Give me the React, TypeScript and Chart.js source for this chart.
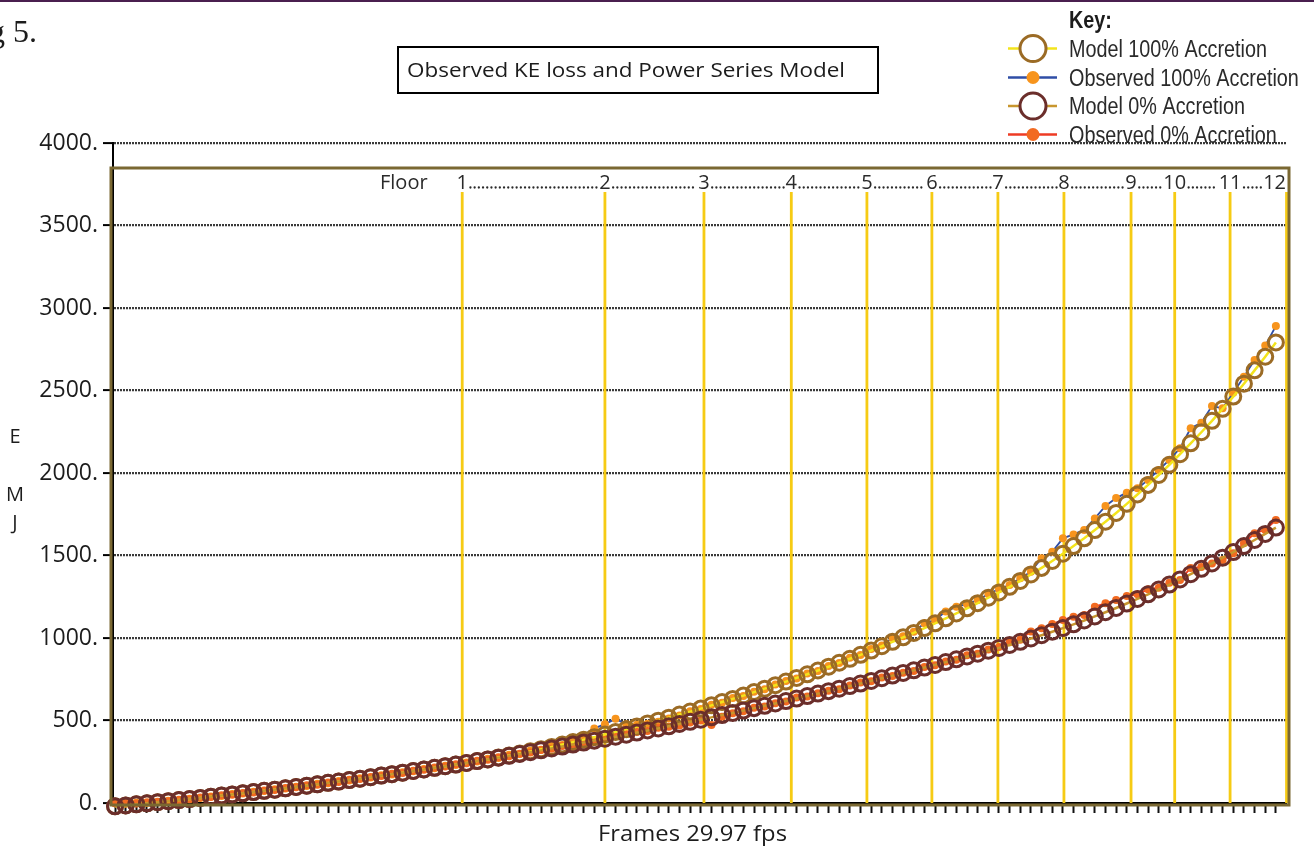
import React, { useEffect, useRef } from "react";
import { Chart, registerables } from "chart.js";

Chart.register(...registerables);

// Energy axis (MJ)
const Y_MIN = 0;
const Y_MAX = 4000;
const Y_STEP = 500;

// Floor crossings, in video frames
const FLOOR_LABELS = ["1", "2", "3", "4", "5", "6", "7", "8", "9", "10", "11", "12"];
const FLOOR_FRAMES = [32.6, 46.0, 55.3, 63.5, 70.6, 76.7, 82.9, 89.1, 95.4, 99.5, 104.7, 110.0];

// Kinetic energy per frame (MJ)
const MODEL_100 = [
  -20, -15, -8, -2, 5, 11, 18, 24, 31, 38,
  45, 52, 59, 66, 74, 81, 89, 97, 105, 113,
  122, 130, 139, 147, 156, 166, 175, 184, 194, 203,
  213, 223, 233, 243, 254, 264, 276, 288, 300, 313,
  326, 340, 354, 369, 384, 399, 415, 431, 447, 464,
  482, 499, 517, 536, 554, 572, 592, 612, 631, 651,
  672, 693, 714, 736, 758, 780, 803, 826, 850, 874,
  898, 924, 950, 977, 1004, 1031, 1060, 1089, 1119, 1149,
  1180, 1211, 1244, 1276, 1310, 1346, 1385, 1425, 1467, 1511,
  1557, 1604, 1654, 1705, 1758, 1813, 1870, 1928, 1988, 2050,
  2114, 2180, 2247, 2316, 2389, 2463, 2541, 2622, 2705, 2791,
];

const OBSERVED_100 = [
  0, -5, 2, 0, 6, 14, 15, 26, 30, 40,
  43, 55, 57, 68, 72, 84, 88, 99, 103, 116,
  120, 133, 137, 150, 154, 168, 173, 187, 192, 206,
  211, 226, 231, 246, 251, 268, 272, 292, 297, 318,
  322, 345, 352, 380, 410, 452, 478, 510, 478, 475,
  480, 492, 512, 530, 556, 570, 596, 608, 636, 648,
  675, 690, 718, 740, 755, 785, 800, 830, 848, 880,
  897, 933, 955, 1000, 1010, 1038, 1089, 1109, 1160, 1190,
  1205, 1230, 1267, 1297, 1321, 1362, 1402, 1483, 1523, 1604,
  1628, 1655, 1725, 1800, 1848, 1881, 1907, 1958, 2018, 2079,
  2150, 2271, 2305, 2406, 2392, 2487, 2584, 2685, 2772, 2891,
];

const MODEL_0 = [
  -20, -15, -8, -2, 5, 11, 18, 24, 31, 38,
  45, 52, 59, 66, 74, 81, 89, 97, 105, 113,
  122, 130, 139, 147, 156, 166, 175, 184, 194, 203,
  213, 223, 233, 243, 254, 264, 275, 286, 297, 308,
  319, 331, 342, 354, 366, 378, 390, 402, 414, 427,
  440, 452, 465, 479, 492, 505, 519, 533, 546, 560,
  575, 589, 603, 618, 633, 648, 663, 678, 693, 709,
  724, 740, 756, 772, 788, 804, 821, 837, 854, 871,
  888, 905, 923, 940, 958, 977, 997, 1017, 1038, 1060,
  1083, 1106, 1131, 1156, 1182, 1209, 1237, 1265, 1294, 1324,
  1355, 1387, 1419, 1452, 1487, 1521, 1557, 1594, 1631, 1669,
];

const OBSERVED_0 = [
  -2, 2, -3, 4, 8, 10, 20, 22, 33, 36,
  47, 50, 61, 64, 76, 79, 91, 95, 107, 111,
  124, 128, 141, 145, 158, 164, 177, 182, 196, 201,
  215, 221, 235, 241, 256, 262, 277, 284, 299, 306,
  321, 329, 345, 352, 368, 380, 392, 404, 418, 430,
  436, 456, 462, 470, 488, 500, 473, 522, 544, 556,
  578, 585, 605, 615, 640, 645, 665, 680, 690, 712,
  730, 738, 760, 770, 790, 800, 825, 835, 858, 868,
  895, 905, 930, 945, 975, 990, 1040, 1059, 1085, 1109,
  1129, 1140, 1190, 1210, 1230, 1254, 1265, 1295, 1305, 1335,
  1351, 1425, 1430, 1452, 1473, 1513, 1574, 1635, 1655, 1715,
];

const SERIES_NAMES = [
  "Model 100% Accretion",
  "Observed 100% Accretion",
  "Model 0% Accretion",
  "Observed 0% Accretion",
];

const TITLE = "Observed KE loss and Power Series Model";
const X_TITLE = "Frames 29.97 fps";
const Y_TITLE = ["E", "M", "J"];
const FLOOR_TITLE = "Floor";
const KEY_TITLE = "Key:";
const FIGURE_TAG = "g 5.";

const COLORS = {
  model100Line: "#f3e41c",
  model100Ring: "#9b6b25",
  obs100Line: "#2f4ea6",
  obs100Dot: "#f7941d",
  model0Line: "#c8962e",
  model0Ring: "#6b2e2b",
  obs0Line: "#ee3b24",
  obs0Dot: "#f26a21",
  floor: "#f6cb14",
  frame: "#7a6832",
  text: "#1c1c1c",
};

const SANS = '"Open Sans", "DejaVu Sans", sans-serif';
const NARROW = '"Liberation Sans", Arial, sans-serif';

const toPoints = (values: number[]) => values.map((y, i) => ({ x: i, y }));

const squeezed = (
  ctx: CanvasRenderingContext2D,
  text: string,
  x: number,
  y: number,
  font: string,
  sx: number
) => {
  ctx.save();
  ctx.font = font;
  ctx.textAlign = "left";
  ctx.textBaseline = "alphabetic";
  ctx.translate(x, y);
  ctx.scale(sx, 1);
  ctx.fillText(text, 0, 0);
  ctx.restore();
};

const decorations = {
  id: "decorations",
  beforeDraw(chart: any) {
    const { ctx, chartArea } = chart;
    ctx.save();
    // thin rule across the top of the page
    ctx.fillStyle = "#4a1f4f";
    ctx.fillRect(0, 0, chart.width, 2);

    ctx.fillStyle = COLORS.text;
    ctx.font = '32px "Liberation Serif", "DejaVu Serif", serif';
    ctx.textAlign = "left";
    ctx.textBaseline = "alphabetic";
    ctx.fillText(FIGURE_TAG, -11, 42);

    // title box
    ctx.strokeStyle = "#000";
    ctx.lineWidth = 2;
    ctx.strokeRect(398, 47, 480, 46);
    ctx.font = `20px ${SANS}`;
    const tw = ctx.measureText(TITLE).width;
    ctx.save();
    ctx.translate(407, 77);
    ctx.scale(438 / tw, 1);
    ctx.fillText(TITLE, 0, 0);
    ctx.restore();

    // vertical axis title, stacked letters
    ctx.font = `20px ${SANS}`;
    ctx.textAlign = "center";
    ctx.textBaseline = "middle";
    const ys = [437, 495, 523];
    Y_TITLE.forEach((t, i) => ctx.fillText(t, 15, ys[i]));

    // horizontal axis title
    ctx.font = `22px ${SANS}`;
    ctx.textAlign = "left";
    ctx.textBaseline = "alphabetic";
    const fw = ctx.measureText(X_TITLE).width;
    ctx.save();
    ctx.translate(598, chartArea.bottom + 38);
    ctx.scale(189 / fw, 1);
    ctx.fillText(X_TITLE, 0, 0);
    ctx.restore();
    ctx.restore();
  },
  beforeDatasetsDraw(chart: any) {
    const { ctx, chartArea, scales } = chart;
    ctx.save();
    ctx.strokeStyle = COLORS.floor;
    ctx.lineWidth = 2.8;
    FLOOR_FRAMES.forEach((f) => {
      const x = scales.x.getPixelForValue(f);
      ctx.beginPath();
      ctx.moveTo(x, 192);
      ctx.lineTo(x, chartArea.bottom);
      ctx.stroke();
    });
    ctx.restore();
  },
  afterDraw(chart: any) {
    const { ctx, chartArea, scales } = chart;
    ctx.save();

    // framing rectangle around the plot
    const frameLeft = chartArea.left - 2;
    const frameRight = chartArea.right + 3;
    const frameTop = 168;
    const frameBottom = chartArea.bottom + 2;
    ctx.strokeStyle = COLORS.frame;
    ctx.lineWidth = 3;
    ctx.strokeRect(frameLeft, frameTop, frameRight - frameLeft, frameBottom - frameTop);

    // floor numbers with dotted leaders
    ctx.fillStyle = "#2a2a2a";
    ctx.font = `20px ${SANS}`;
    ctx.textBaseline = "alphabetic";
    ctx.textAlign = "left";
    ctx.fillText(FLOOR_TITLE, 380, 189);
    const spans: Array<[number, number]> = [];
    FLOOR_FRAMES.forEach((f, i) => {
      const label = FLOOR_LABELS[i];
      const w = ctx.measureText(label).width;
      let x = scales.x.getPixelForValue(f) - w / 2;
      if (x + w > frameRight - 3) x = frameRight - 3 - w;
      ctx.fillText(label, x, 189);
      spans.push([x, x + w]);
    });
    for (let i = 0; i + 1 < spans.length; i++) {
      const start = spans[i][1] + 2.5;
      const end = spans[i + 1][0] - 1.5;
      for (let x = start; x <= end; x += 4.2) {
        ctx.beginPath();
        ctx.arc(x, 187.5, 1.15, 0, Math.PI * 2);
        ctx.fill();
      }
    }

    // key
    ctx.fillStyle = COLORS.text;
    squeezed(ctx, KEY_TITLE, 1069, 28, `bold 23px ${NARROW}`, 0.86);
    const rows = [
      { y: 48.5, base: 57, line: COLORS.model100Line, ring: COLORS.model100Ring, dot: null },
      { y: 77.5, base: 85.5, line: COLORS.obs100Line, ring: null, dot: COLORS.obs100Dot },
      { y: 106, base: 114, line: COLORS.model0Line, ring: COLORS.model0Ring, dot: null },
      { y: 134.5, base: 142.5, line: COLORS.obs0Line, ring: null, dot: COLORS.obs0Dot },
    ];
    rows.forEach((r, i) => {
      ctx.strokeStyle = r.line;
      ctx.lineWidth = 2.5;
      ctx.beginPath();
      ctx.moveTo(1008, r.y);
      ctx.lineTo(1057, r.y);
      ctx.stroke();
      if (r.ring) {
        ctx.beginPath();
        ctx.arc(1033, r.y, 13, 0, Math.PI * 2);
        ctx.fillStyle = "#fff";
        ctx.fill();
        ctx.strokeStyle = r.ring;
        ctx.lineWidth = 3;
        ctx.stroke();
      }
      if (r.dot) {
        ctx.beginPath();
        ctx.arc(1033, r.y, 6.5, 0, Math.PI * 2);
        ctx.fillStyle = r.dot;
        ctx.fill();
      }
      ctx.fillStyle = "#2a2a2a";
      squeezed(ctx, SERIES_NAMES[i], 1069, r.base, `23px ${NARROW}`, 0.86);
    });
    ctx.restore();
  },
};

export default function App() {
  const canvasRef = useRef<HTMLCanvasElement | null>(null);

  useEffect(() => {
    const canvas = canvasRef.current;
    if (!canvas) return;
    const chart = new Chart(canvas, {
      type: "line",
      data: {
        datasets: [
          {
            label: SERIES_NAMES[2],
            data: toPoints(MODEL_0),
            borderColor: COLORS.model0Line,
            borderWidth: 2.5,
            pointRadius: 7.5,
            pointBorderWidth: 3,
            pointBorderColor: COLORS.model0Ring,
            pointBackgroundColor: "rgba(0,0,0,0)",
            tension: 0,
            order: 0,
          },
          {
            label: SERIES_NAMES[0],
            data: toPoints(MODEL_100),
            borderColor: COLORS.model100Line,
            borderWidth: 2.5,
            pointRadius: 7.5,
            pointBorderWidth: 3,
            pointBorderColor: COLORS.model100Ring,
            pointBackgroundColor: "rgba(0,0,0,0)",
            tension: 0,
            order: 1,
          },
          {
            label: SERIES_NAMES[3],
            data: toPoints(OBSERVED_0),
            borderColor: COLORS.obs0Line,
            borderWidth: 1.8,
            pointRadius: 4,
            pointBorderWidth: 0,
            pointBackgroundColor: COLORS.obs0Dot,
            tension: 0,
            order: 2,
          },
          {
            label: SERIES_NAMES[1],
            data: toPoints(OBSERVED_100),
            borderColor: COLORS.obs100Line,
            borderWidth: 1.8,
            pointRadius: 4,
            pointBorderWidth: 0,
            pointBackgroundColor: COLORS.obs100Dot,
            tension: 0,
            order: 3,
          },
        ],
      },
      options: {
        animation: false,
        responsive: false,
        devicePixelRatio: 1,
        clip: false as any,
        layout: { padding: { top: 143, right: 28, left: 0, bottom: 0 } },
        plugins: {
          legend: { display: false },
          tooltip: { enabled: false },
          title: { display: false },
        },
        scales: {
          x: {
            type: "linear",
            min: -0.19,
            max: 109.95,
            afterBuildTicks: (scale: any) => {
              scale.ticks = MODEL_100.map((_, i) => ({ value: i }));
            },
            afterFit: (scale: any) => {
              scale.height = 47;
            },
            ticks: { display: false, autoSkip: false },
            grid: {
              drawOnChartArea: false,
              drawTicks: true,
              tickLength: 10,
              tickWidth: 2,
              tickColor: "#111",
            },
            border: { display: true, color: "#000", width: 2 },
          },
          y: {
            type: "linear",
            min: Y_MIN,
            max: Y_MAX,
            afterFit: (scale: any) => {
              scale.width = 113;
            },
            ticks: {
              stepSize: Y_STEP,
              padding: 5,
              color: COLORS.text,
              font: { family: SANS, size: 23 },
              callback: (v: any) => `${v}.`,
            },
            grid: {
              color: (c: any) => (c.tick && c.tick.value === 0 ? "rgba(0,0,0,0)" : "#3a3a3a"),
              lineWidth: 2.2,
              drawTicks: true,
              tickLength: 10,
              tickWidth: 2,
              tickColor: "#000",
              tickBorderDash: [],
            },
            border: { display: true, color: "#000", width: 2, dash: [2, 1] },
          },
        },
      },
      plugins: [decorations],
    });
    return () => chart.destroy();
  }, []);

  return (
    <div style={{ position: "absolute", left: 0, top: 0, width: 1314, height: 850, background: "#fff" }}>
      <canvas ref={canvasRef} width={1314} height={850} style={{ display: "block" }} />
    </div>
  );
}
